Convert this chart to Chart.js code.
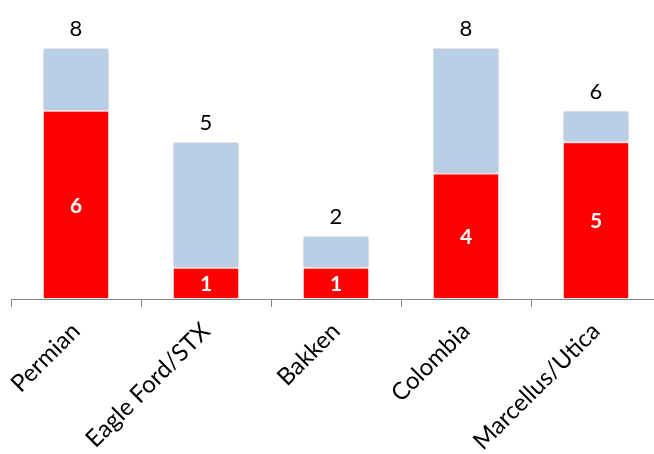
<!DOCTYPE html>
<html>
<head>
<meta charset="utf-8">
<script src="https://cdn.jsdelivr.net/npm/chart.js@4"></script>
<style>
  html, body { margin: 0; padding: 0; background: #fff; overflow: hidden; }
  #wrap { width: 654px; height: 454px; overflow: hidden; }
</style>
</head>
<body>
<div id="wrap"><canvas id="chart" width="661" height="454"></canvas></div>
<script>
// Plays per basin: red part and the remainder on top
const basins = ['Permian', 'Eagle Ford/STX', 'Bakken', 'Colombia', 'Marcellus/Utica'];
const redCounts = [6, 1, 1, 4, 5];
const restCounts = [2, 4, 1, 4, 1];
const totals = redCounts.map((v, i) => v + restCounts[i]);

Chart.defaults.font.family = 'Lato, "Open Sans", sans-serif';
Chart.defaults.color = '#000';

// soft drop shadow behind the bars
const barShadow = {
    id: 'barShadow',
    beforeDatasetsDraw(chart) {
        const ctx = chart.ctx;
        ctx.save();
        ctx.shadowColor = 'rgba(0,0,0,0.28)';
        ctx.shadowBlur = 4;
        ctx.shadowOffsetX = 0;
        ctx.shadowOffsetY = 0;
    },
    afterDatasetsDraw(chart) {
        chart.ctx.restore();
    }
};

// white value inside the red segment, total above each stack
const valueLabels = {
    id: 'valueLabels',
    afterDraw(chart) {
        const ctx = chart.ctx;
        const redMeta = chart.getDatasetMeta(0);
        const restMeta = chart.getDatasetMeta(1);
        ctx.save();
        ctx.textAlign = 'center';
        ctx.textBaseline = 'middle';

        ctx.fillStyle = '#fff';
        ctx.font = 'bold 21px Lato, sans-serif';
        redMeta.data.forEach((bar, i) => {
            ctx.fillText(String(redCounts[i]), bar.x, (bar.y + bar.base) / 2 + 1);
        });

        ctx.fillStyle = '#000';
        ctx.font = '22px Lato, sans-serif';
        ctx.textBaseline = 'bottom';
        restMeta.data.forEach((bar, i) => {
            ctx.fillText(String(totals[i]), bar.x, bar.y - 8);
        });
        ctx.restore();
    }
};

new Chart(document.getElementById('chart'), {
    type: 'bar',
    data: {
        labels: basins,
        datasets: [{
            label: 'Red',
            data: redCounts,
            backgroundColor: '#FF0000',
            borderColor: '#FFFFFF',
            borderWidth: 1,
            borderSkipped: false
        }, {
            label: 'Rest',
            data: restCounts,
            backgroundColor: '#B9CDE5',
            borderColor: '#FFFFFF',
            borderWidth: 1,
            borderSkipped: false
        }]
    },
    options: {
        responsive: false,
        animation: false,
        layout: { padding: { left: 11, right: 0, top: 0, bottom: 0 } },
        datasets: {
            bar: { categoryPercentage: 1, barPercentage: 0.51 }
        },
        plugins: {
            legend: { display: false },
            tooltip: { enabled: false }
        },
        scales: {
            x: {
                stacked: true,
                afterFit: (scale) => { scale.height = 155; },
                border: { display: true, color: '#868686', width: 1 },
                grid: {
                    drawOnChartArea: false,
                    drawTicks: true,
                    tickLength: 8,
                    color: '#868686',
                    offset: true
                },
                ticks: {
                    minRotation: 45,
                    maxRotation: 45,
                    padding: 10,
                    font: { size: 24 },
                    color: '#000'
                }
            },
            y: {
                stacked: true,
                display: false,
                min: 0,
                max: 9.53
            }
        }
    },
    plugins: [barShadow, valueLabels]
});
</script>
</body>
</html>
